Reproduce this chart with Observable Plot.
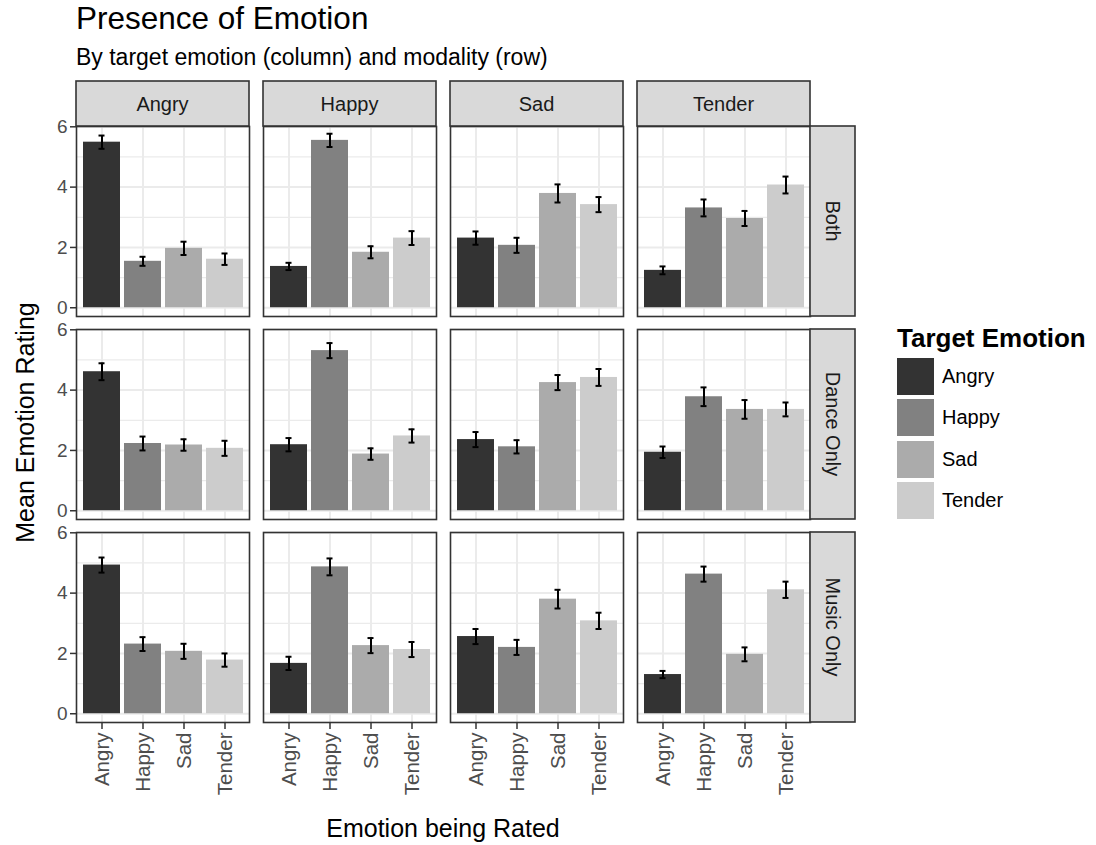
<!DOCTYPE html>
<html>
<head>
<meta charset="utf-8">
<script src="https://cdn.jsdelivr.net/npm/d3@7"></script>
<script src="https://cdn.jsdelivr.net/npm/@observablehq/plot@0.6"></script>
<style>
  body { margin: 0; background: #fff; font-family: "Liberation Sans", Arial, sans-serif; }
  #wrap { position: relative; width: 1096px; height: 845px; overflow: hidden; background: #fff; }
  .abs { position: absolute; white-space: nowrap; color: #000; }
  #title { left: 76px; top: 3px; font-size: 31.5px; line-height: 31.5px; }
  #subtitle { left: 76px; top: 46px; font-size: 23px; line-height: 23px; }
  #chart { position: absolute; left: 0; top: 76px; }
  #xtitle { left: 243px; width: 400px; text-align: center; top: 816px; font-size: 25px; line-height: 25px; }
  #ytitle { left: -175px; width: 400px; text-align: center; top: 410px; font-size: 25px; line-height: 25px; transform: rotate(-90deg); transform-origin: 200px 12.5px; }
  #legend { left: 897px; top: 323px; }
  #legend .lt { font-weight: bold; font-size: 26px; line-height: 30px; margin-bottom: 5px; }
  #legend .row { display: flex; align-items: center; height: 37px; margin-bottom: 4.3px; }
  #legend .key { width: 37px; height: 37px; }
  #legend .lab { margin-left: 8px; font-size: 20px; color: #000; }
</style>
</head>
<body>
<div id="wrap">
  <div id="title" class="abs">Presence of Emotion</div>
  <div id="subtitle" class="abs">By target emotion (column) and modality (row)</div>
  <div id="chart"></div>
  <div id="xtitle" class="abs">Emotion being Rated</div>
  <div id="ytitle" class="abs">Mean Emotion Rating</div>
  <div id="legend" class="abs"></div>
</div>
<script>
// ---- data ----
const emotions = ["Angry", "Happy", "Sad", "Tender"];          // target (column) and rated (x)
const modalities = ["Both", "Dance Only", "Music Only"];        // rows
const legendTitle = "Target Emotion";
const greys = ["#333333", "#818181", "#ABABAB", "#CCCCCC"];

// mean rating: [target emotion][rated emotion]
const meansBoth  = [[5.49, 1.54, 1.97, 1.61], [1.37, 5.55, 1.84, 2.31], [2.31, 2.07, 3.79, 3.42], [1.24, 3.31, 2.96, 4.07]];
const meansDance = [[4.61, 2.23, 2.18, 2.07], [2.19, 5.31, 1.88, 2.48], [2.36, 2.12, 4.25, 4.42], [1.94, 3.78, 3.36, 3.36]];
const meansMusic = [[4.93, 2.31, 2.07, 1.78], [1.67, 4.87, 2.26, 2.13], [2.56, 2.20, 3.80, 3.08], [1.30, 4.63, 1.97, 4.11]];
// standard errors (error bar half-length)
const seBoth  = [[0.22, 0.15, 0.22, 0.19], [0.12, 0.22, 0.20, 0.23], [0.22, 0.25, 0.30, 0.25], [0.13, 0.28, 0.25, 0.28]];
const seDance = [[0.28, 0.23, 0.19, 0.25], [0.22, 0.25, 0.19, 0.22], [0.25, 0.22, 0.25, 0.28], [0.19, 0.31, 0.31, 0.23]];
const seMusic = [[0.25, 0.23, 0.25, 0.22], [0.22, 0.28, 0.25, 0.25], [0.25, 0.25, 0.31, 0.27], [0.12, 0.25, 0.23, 0.27]];
const yTicks = [0, 2, 4, 6];
const yMinor = [1, 3, 5];

const means = [meansBoth, meansDance, meansMusic];
const ses = [seBoth, seDance, seMusic];
const data = [];
modalities.forEach((m, mi) => emotions.forEach((t, ti) => emotions.forEach((r, ri) => {
  const mean = means[mi][ti][ri], se = ses[mi][ti][ri];
  data.push({modality: m, target: t, rated: r, mean, lo: mean - se, hi: mean + se});
})));

// ---- chart ----
const W = 870, H = 769;
const fc = {fx: "target", fy: "modality"};
const plot = Plot.plot({
  width: W, height: H,
  marginLeft: 76, marginRight: W - 810, marginTop: 49, marginBottom: 121,
  style: {fontFamily: "Liberation Sans, Arial, sans-serif", fontSize: "20px", background: "white", overflow: "visible"},
  fx: {domain: emotions, paddingInner: 14 / 187, paddingOuter: 0, axis: null},
  fy: {domain: modalities, paddingInner: 0.062, paddingOuter: 0, axis: null},
  x: {domain: emotions, paddingInner: 0.1, paddingOuter: 0.15, label: null},
  y: {domain: [-0.29, 6.01], label: null},
  color: {domain: emotions, range: greys},
  marks: [
    Plot.gridY(yMinor, {stroke: "#EBEBEB", strokeOpacity: 1, strokeWidth: 1.2}),
    Plot.gridY(yTicks, {stroke: "#EBEBEB", strokeOpacity: 1, strokeWidth: 2}),
    Plot.gridX(emotions, {stroke: "#EBEBEB", strokeOpacity: 1, strokeWidth: 2}),
    Plot.barY(data, {...fc, x: "rated", y: "mean", fill: "rated", inset: 0}),
    Plot.ruleX(data, {...fc, x: "rated", y1: "lo", y2: "hi", stroke: "black", strokeWidth: 2}),
    Plot.tickY(data, {...fc, x: "rated", y: "lo", stroke: "black", strokeWidth: 2, insetLeft: 15.5, insetRight: 15.5}),
    Plot.tickY(data, {...fc, x: "rated", y: "hi", stroke: "black", strokeWidth: 2, insetLeft: 15.5, insetRight: 15.5}),
    Plot.frame({stroke: "#333333", strokeWidth: 1.6}),
    Plot.axisY({ticks: yTicks, tickFormat: d => String(d), tickSize: 6, tickPadding: 3, fontSize: 19, fill: "#4D4D4D", stroke: "#333333", strokeWidth: 1.5, label: null}),
    Plot.axisX({tickRotate: -90, tickSize: 7, tickPadding: 3, fontSize: 20.5, fill: "#4D4D4D", stroke: "#333333", strokeWidth: 1.5, label: null})
  ]
});
document.getElementById("chart").appendChild(plot);

// ---- facet strips (ggplot-style), placed from the facet scales ----
const fxS = plot.scale("fx"), fyS = plot.scale("fy");
const bandX = d3.scaleBand().domain(fxS.domain).range(fxS.range).paddingInner(fxS.paddingInner ?? 14 / 187).paddingOuter(fxS.paddingOuter ?? 0);
const bandY = d3.scaleBand().domain(fyS.domain).range(fyS.range).paddingInner(fyS.paddingInner ?? 0.062).paddingOuter(fyS.paddingOuter ?? 0);
const fxPos = v => (fxS.apply ? fxS.apply(v) : bandX(v));
const fyPos = v => (fyS.apply ? fyS.apply(v) : bandY(v));
const bwX = fxS.bandwidth ?? bandX.bandwidth();
const bwY = fyS.bandwidth ?? bandY.bandwidth();
const stripSize = 45;
const svg = d3.select(plot);
const g = svg.append("g").attr("class", "strips");
const top0 = fyPos(modalities[0]);
emotions.forEach(e => {
  const x0 = fxPos(e);
  g.append("rect").attr("x", x0).attr("y", top0 - stripSize).attr("width", bwX).attr("height", stripSize)
    .attr("fill", "#D9D9D9").attr("stroke", "#333333").attr("stroke-width", 1.6);
  g.append("text").attr("x", x0 + bwX / 2).attr("y", top0 - stripSize / 2).attr("text-anchor", "middle")
    .attr("dominant-baseline", "central").attr("fill", "#1A1A1A").attr("font-size", 20).text(e);
});
const right0 = fxPos(emotions[emotions.length - 1]) + bwX;
modalities.forEach(m => {
  const y0 = fyPos(m);
  g.append("rect").attr("x", right0).attr("y", y0).attr("width", stripSize).attr("height", bwY)
    .attr("fill", "#D9D9D9").attr("stroke", "#333333").attr("stroke-width", 1.6);
  const cx = right0 + stripSize / 2, cy = y0 + bwY / 2;
  g.append("text").attr("transform", `translate(${cx},${cy}) rotate(90)`).attr("text-anchor", "middle")
    .attr("dominant-baseline", "central").attr("fill", "#1A1A1A").attr("font-size", 20).text(m);
});

// ---- legend ----
const colorS = plot.scale("color");
const leg = d3.select("#legend");
leg.append("div").attr("class", "lt").text(legendTitle);
emotions.forEach(e => {
  const row = leg.append("div").attr("class", "row");
  row.append("div").attr("class", "key").style("background", colorS.apply(e));
  row.append("div").attr("class", "lab").text(e);
});
</script>
</body>
</html>
